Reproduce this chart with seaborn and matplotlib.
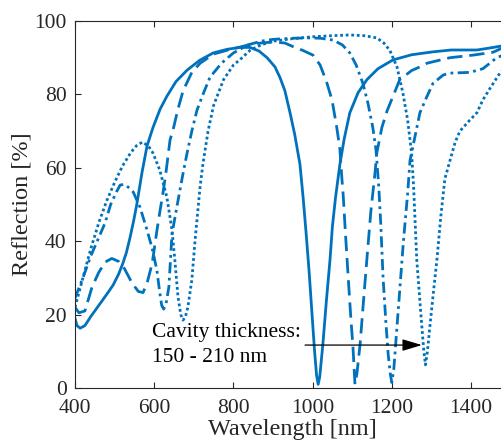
import numpy as np
import pandas as pd
import matplotlib
matplotlib.use("Agg")
import matplotlib.pyplot as plt
import seaborn as sns

# Reflection spectra of the cavity for four cavity thicknesses
thickness_labels = ["150 nm", "170 nm", "190 nm", "210 nm"]

wl_150 = [400, 405, 413, 425, 440, 460, 480, 496, 510, 521, 530, 539, 548, 556, 569, 582, 597, 615,
          632, 655, 683, 715, 749, 785, 817, 842, 865, 885, 905, 918, 930, 943, 955, 968, 976, 983,
          991, 998, 1005, 1010, 1014, 1018, 1026, 1035, 1044, 1050, 1058, 1069, 1080, 1094, 1115,
          1137, 1165, 1203, 1250, 1304, 1350, 1415, 1445, 1478, 1500]
refl_150 = [19, 17, 16.3, 17, 19.5, 22.5, 25.5, 28, 31, 34, 37, 41, 45.5, 50, 58.6, 66, 71, 76,
            79.5, 83.5, 86.6, 89.3, 91.3, 92.3, 92.8, 92.8, 91.8, 90, 87.5, 84.5, 81, 75, 69, 61, 52, 43,
            32, 21, 10, 3.5, 1, 3, 12, 24, 35, 44, 52, 61, 68, 75, 80.5,
            84, 87, 89.4, 90.8, 91.6, 92.1, 92.1, 92.6, 93.2, 93.5]

wl_170 = [400, 410, 425, 443, 460, 476, 493, 510, 525, 544, 560, 572, 583, 595, 607, 615, 622, 630,
          640, 648, 660, 673, 695, 716, 750, 783, 820, 850, 900, 930, 951, 975, 1001, 1019, 1035,
          1049, 1061, 1069, 1074, 1077, 1083, 1090, 1096, 1102, 1107, 1112, 1120, 1128, 1137, 1147,
          1158, 1162, 1175, 1188, 1205, 1220, 1250, 1271, 1289, 1347, 1405, 1456, 1478, 1500]
refl_170 = [22, 20.5, 21, 27.5, 31.5, 34.3, 35.3, 34.5, 32.5, 28.6, 26.3, 26, 29, 34, 43, 48.5, 53, 59,
            67.6, 70.5, 76, 81, 86, 88.5, 91, 92, 93, 93.8, 94.3, 94, 93, 92, 90.7, 88, 83.5,
            78.5, 71, 65, 57, 53, 42, 30, 20, 11, 1, 4, 12, 23, 35, 48,
            59, 64, 71, 75.5, 80, 84, 86.5, 87.5, 88.5, 90, 90.7, 91.5, 92.6, 93.3]

wl_190 = [400, 420, 440, 460, 476, 490, 505, 514, 525, 537, 547, 564, 582, 595, 607, 614, 619, 624,
          630, 637, 645, 660, 672, 683, 695, 708, 725, 741, 770, 800, 837, 870, 900, 950, 993, 1020,
          1052, 1075, 1094, 1110, 1127, 1140, 1152, 1160, 1167, 1172, 1178, 1185, 1191, 1196, 1200,
          1205, 1213, 1221, 1229, 1240, 1246, 1271, 1289, 1304, 1330, 1347, 1397, 1430, 1465, 1500]
refl_190 = [24.5, 30, 36, 41, 45, 50, 53.5, 55.3, 55.5, 54.5, 53.4, 49.3, 43, 38, 32, 26, 22.5, 21.5,
            23, 27.5, 42, 51, 58, 64, 70, 75.7, 80.5, 84.7, 88.5, 91.3, 93.5, 94.5, 95, 95.3, 95.4, 95.3,
            94.8, 93.5, 91.3, 88, 83, 77.5, 71, 65, 55, 45, 30, 18, 9, 4, 1.5,
            5, 16.6, 28, 39.5, 53, 62, 75, 79.5, 83, 85.3, 85.8, 86, 87, 90, 91.5]

wl_210 = [400, 420, 440, 460, 480, 500, 520, 540, 555, 570, 585, 597, 614, 632, 645, 652, 660, 667,
          673, 679, 685, 695, 703, 716, 723, 736, 750, 775, 800, 817, 842, 870, 900, 950, 1000, 1050,
          1094, 1130, 1162, 1180, 1195, 1213, 1228, 1240, 1250, 1255, 1263, 1270, 1276, 1281, 1285,
          1290, 1296, 1305, 1314, 1324, 1334, 1347, 1360, 1372, 1397, 1415, 1430, 1450, 1473, 1500]
refl_210 = [22, 30, 38, 45, 51, 56, 60.5, 64, 66, 67, 66, 64, 59.4, 52, 43, 35, 25, 20,
            18.5, 19.5, 22, 29.4, 40, 55, 61, 70, 77, 84, 88, 89.5, 92, 93.5, 94.5, 95.2, 95.7, 96,
            96.2, 96, 95.4, 94, 92, 87.5, 80.4, 73, 64, 55, 35, 25, 16.6, 10, 6.3,
            10, 16.6, 26, 35, 47, 57, 62, 67, 70, 73, 75, 78.5, 82, 85.8, 89]

x_ticks = [400, 600, 800, 1000, 1200, 1400]
y_ticks = [0, 20, 40, 60, 80, 100]

frames = []
for label, wl, rf in zip(thickness_labels,
                         [wl_150, wl_170, wl_190, wl_210],
                         [refl_150, refl_170, refl_190, refl_210]):
    frames.append(pd.DataFrame({"Wavelength": wl, "Reflection": rf, "Thickness": label}))
df = pd.concat(frames, ignore_index=True)

sns.set_theme(style="ticks")
plt.rcParams["font.family"] = ["Liberation Serif", "DejaVu Serif"]
plt.rcParams["axes.edgecolor"] = "#262626"
plt.rcParams["axes.linewidth"] = 0.8

line_color = "#0072BD"
dash_styles = {
    "150 nm": "",
    "170 nm": (5.5, 2.5),
    "190 nm": (4.0, 1.6, 1.0, 1.6),
    "210 nm": (1.0, 1.0),
}

fig = plt.figure(figsize=(5.02, 4.46), dpi=100)
ax = fig.add_axes([75 / 502, 58 / 446, 435.6 / 502, 367 / 446])

sns.lineplot(data=df, x="Wavelength", y="Reflection", style="Thickness",
             dashes=dash_styles, color=line_color, linewidth=2.0,
             estimator=None, sort=False, legend=False, ax=ax)

ax.set_xlim(400, 1500)
ax.set_ylim(0, 100)
ax.set_xticks(x_ticks)
ax.set_yticks(y_ticks)
ax.tick_params(direction="in", length=4, width=0.8, colors="#262626",
               labelsize=15.5, top=True, right=True)
ax.tick_params(axis="x", pad=8)
ax.tick_params(axis="y", pad=6)
for sp in ax.spines.values():
    sp.set_visible(True)
    sp.set_color("#262626")

ax.set_xlabel("Wavelength [nm]", fontsize=17.5, color="#262626", labelpad=1)
ax.set_ylabel("Reflection [%]", fontsize=17.5, color="#262626", labelpad=1)

# Arrow indicating the red shift with increasing cavity thickness
ax.annotate("", xy=(1276, 11.7), xytext=(981, 11.7),
            arrowprops=dict(arrowstyle="-|>,head_length=1.2,head_width=0.36",
                            mutation_scale=10, color="black", lw=0.9,
                            shrinkA=0, shrinkB=0))
ax.text(594, 13.9, "Cavity thickness:", fontsize=15.5, va="baseline", ha="left", color="black")
ax.text(594, 7.1, "150 - 210 nm", fontsize=15.5, va="baseline", ha="left", color="black")

fig.savefig("out.png", dpi=100)
